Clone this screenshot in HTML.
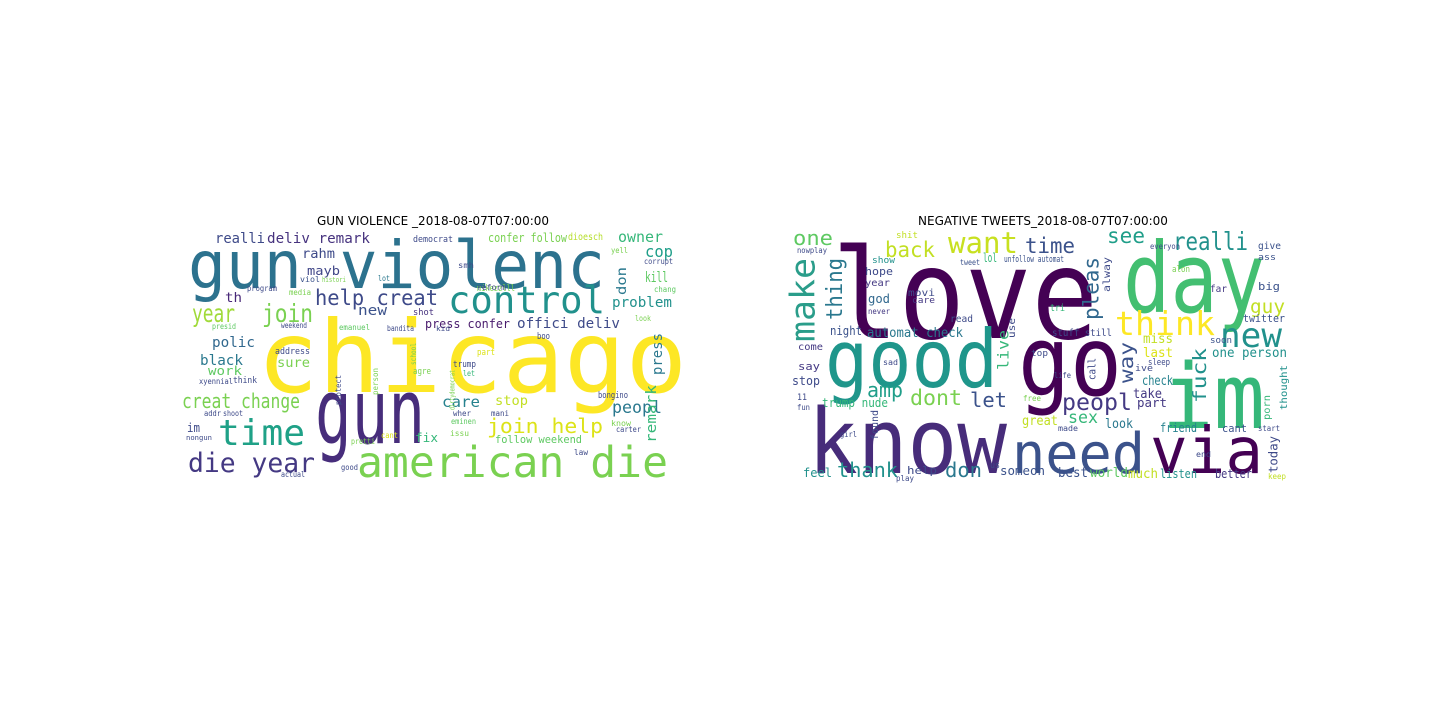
<!DOCTYPE html>
<html><head><meta charset="utf-8"><style>
html,body{margin:0;padding:0;background:#fff;}
svg{display:block;}
text{font-family:"DejaVu Sans Mono","Liberation Mono",monospace;}
.t{font-family:"DejaVu Sans","Liberation Sans",sans-serif;font-size:12px;fill:#000;}
</style></head><body>
<svg id="s" width="1440" height="720" viewBox="0 0 1440 720">
<rect width="1440" height="720" fill="#fff"/>
<g id="left"></g>
<g id="right"></g>
<text class="t" x="433" y="225" text-anchor="middle">GUN VIOLENCE _2018-08-07T07:00:00</text>
<text class="t" x="1043" y="225" text-anchor="middle">NEGATIVE TWEETS_2018-08-07T07:00:00</text>
</svg>
<script>
// [word, x, baselineY, fontSize, color, widthPx, vertical]
const leftWords = [
["chicago",257,392,100,"#fde725",430,0],
["gun violenc",188,288,66,"#2c728e",417,0],
["gun",315,443,90,"#472d7b",110,0],
["control",448,313,37,"#21918c",157,0],
["american die",357,477,43,"#7ad151",311,0],
["time",218,445,36,"#1fa187",87,0],
["die year",188,472,27,"#443983",127,0],
["help creat",315,305,21,"#3e4a89",123,0],
["year",192,322,25,"#a0da39",43,0],
["join",262,322,25,"#7ad151",51,0],
["creat change",182,408,20,"#7ad151",118,0],
["join help",487,433,20,"#dde318",116,0],
["peopl",612,413,17,"#2a788e",50,0],
["problem",612,307,14,"#21918c",60,0],
["kill",645,282,14,"#5ec962",23,0],
["cop",645,257,16,"#1f9e89",28,0],
["owner",618,242,15,"#35b779",45,0],
["realli",215,243,14,"#3e4a89",50,0],
["deliv remark",267,243,14,"#46327e",103,0],
["confer follow",488,242,12,"#7ad151",79,0],
["dioesch",568,240,10,"#b5de2b",35,0],
["press confer",425,328,12,"#481a6c",85,0],
["offici deliv",517,328,14,"#3e4a89",103,0],
["polic",212,347,14,"#31688e",43,0],
["black",200,365,14,"#2a788e",43,0],
["work",208,375,12,"#5ec962",34,0],
["rahm",302,258,13,"#3e4a89",33,0],
["mayb",307,275,12,"#404688",33,0],
["new",358,315,14,"#3b528b",29,0],
["care",442,407,15,"#26828e",38,0],
["stop",495,405,13,"#c2df23",33,0],
["sure",277,367,13,"#7ad151",33,0],
["th",225,302,13,"#482878",17,0],
["fix",415,442,12,"#35b779",23,0],
["follow weekend",495,443,11,"#5ec962",87,0],
["im",187,432,12,"#3e4a89",13,0],
["democrat",413,242,9,"#3e4a89",40,0],
["mikezzlll",477,291,9,"#7ad151",38,0],
["chang",654,292,8,"#5ec962",22,0],
["corrupt",644,264,8,"#3e4a89",29,0],
["yell",611,253,8,"#7ad151",17,0],
["viol",300,282,8,"#3b528b",20,0],
["lot",378,281,8,"#2a788e",12,0],
["program",247,291,8,"#3e4a89",30,0],
["media",289,295,8,"#7ad151",22,0],
["reform",477,290,8,"#3e4a89",29,0],
["shot",413,315,9,"#46327e",21,0],
["emanuel",339,330,8,"#5ec962",31,0],
["bandita",387,331,8,"#3e4a89",27,0],
["weekend",281,328,8,"#3e4a89",26,0],
["presid",212,329,8,"#5ec962",24,0],
["address",275,354,9,"#3e4a89",35,0],
["boo",537,339,9,"#3e4a89",13,0],
["part",477,355,9,"#dde318",18,0],
["trump",453,367,9,"#3e4a89",23,0],
["let",463,376,8,"#35b779",12,0],
["agre",413,374,9,"#7ad151",18,0],
["think",233,383,9,"#3e4a89",24,0],
["xyennial",199,384,8,"#3e4a89",34,0],
["bongino",598,398,9,"#3e4a89",30,0],
["addr",204,416,8,"#3e4a89",17,0],
["shoot",223,416,8,"#3e4a89",20,0],
["mani",491,416,8,"#3e4a89",18,0],
["wher",453,416,8,"#3e4a89",18,0],
["eminen",451,424,8,"#5ec962",25,0],
["issu",450,436,8,"#7ad151",19,0],
["know",611,426,8,"#7ad151",20,0],
["carter",616,432,8,"#3e4a89",25,0],
["cant",381,438,8,"#dde318",17,0],
["pretti",351,444,8,"#7ad151",24,0],
["nongun",186,440,7,"#3e4a89",26,0],
["good",341,470,8,"#3e4a89",17,0],
["actual",281,477,8,"#3e4a89",24,0],
["law",574,455,8,"#3e4a89",14,0],
["smh",458,268,8,"#3e4a89",16,0],
["histori",322,282,7,"#7ad151",24,0],
["look",635,321,8,"#7ad151",16,0],
["kid",436,331,7,"#3e4a89",14,0],
["press",665,375,14,"#2a788e",42,1],
["remark",659,443,14,"#35b779",58,1],
["don",629,295,13,"#2a788e",28,1],
["school",418,365,8,"#7ad151",22,1],
["person",380,395,8,"#7ad151",27,1],
["protect",343,405,8,"#3e4a89",30,1],
["dirtydemocrat",456,410,7,"#7ad151",40,1]
];
const rightWords = [
["love",832,338,125,"#440154",266,0],
["day",1123,312,97,"#43bf71",142,0],
["go",1018,395,96,"#440154",104,0],
["good",825,387,80,"#1f968b",173,0],
["know",808,473,90,"#472c7a",199,0],
["im",1162,428,90,"#35b779",103,0],
["need",1012,473,56,"#3b528b",133,0],
["via",1150,473,64,"#440154",113,0],
["want",948,253,29,"#c8e020",70,0],
["think",1115,335,33,"#fde725",100,0],
["new",1220,347,34,"#21918c",62,0],
["realli",1173,250,25,"#21918c",75,0],
["time",1025,253,21,"#3b528b",50,0],
["see",1107,243,21,"#1f9e89",38,0],
["back",885,257,21,"#c2df23",50,0],
["one",793,245,20,"#5ec962",40,0],
["peopl",1062,410,23,"#443983",70,0],
["dont",910,405,21,"#7ad151",52,0],
["amp",867,397,20,"#1f9e89",36,0],
["let",970,407,20,"#3b528b",37,0],
["thank",837,477,20,"#21918c",61,0],
["don",945,477,20,"#2a788e",37,0],
["guy",1250,313,19,"#c2df23",35,0],
["sex",1068,423,17,"#35b779",30,0],
["automat check",867,337,13,"#2a788e",96,0],
["one person",1212,357,13,"#21918c",75,0],
["miss",1143,343,13,"#c2df23",30,0],
["last",1143,357,13,"#dde318",30,0],
["check",1142,385,13,"#26828e",31,0],
["take",1133,398,13,"#443983",29,0],
["part",1137,407,12,"#443983",30,0],
["great",1022,425,13,"#c2df23",36,0],
["look",1105,428,13,"#2a788e",28,0],
["friend",1160,432,12,"#26828e",37,0],
["cant",1222,432,11,"#3b528b",25,0],
["best",1058,477,13,"#3b528b",30,0],
["world",1090,477,13,"#5ec962",38,0],
["much",1128,478,13,"#c2df23",30,0],
["listen",1160,478,12,"#21918c",37,0],
["better",1215,478,12,"#443983",37,0],
["feel",803,477,12,"#21918c",29,0],
["help",907,474,11,"#3e4a89",30,0],
["someon",1000,475,12,"#3b528b",45,0],
["say",798,370,11,"#443983",22,0],
["stop",792,385,12,"#3e4a89",28,0],
["come",798,350,10,"#443983",25,0],
["night",830,335,12,"#3b528b",32,0],
["trump nude",822,407,12,"#35b779",66,0],
["hope",865,275,11,"#3e4a89",28,0],
["year",865,286,10,"#443983",25,0],
["god",868,303,12,"#31688e",22,0],
["never",868,314,8,"#443983",22,0],
["movi",908,296,10,"#3e4a89",27,0],
["care",912,303,9,"#443983",23,0],
["tri",1050,311,10,"#35b779",15,0],
["read",950,322,10,"#3e4a89",23,0],
["lol",983,262,12,"#35b779",14,0],
["show",872,263,9,"#21918c",23,0],
["stuff still",1052,336,10,"#3e4a89",60,0],
["twitter",1243,322,11,"#3b528b",42,0],
["big",1258,290,11,"#3b528b",22,0],
["far",1210,292,10,"#443983",17,0],
["give",1258,249,10,"#3b528b",23,0],
["ass",1258,260,9,"#3b528b",18,0],
["soon",1210,343,9,"#3b528b",22,0],
["shit",896,238,9,"#c2df23",22,0],
["unfollow automat",1004,262,9,"#3b528b",60,0],
["tweet",960,265,8,"#3b528b",20,0],
["alon",1172,272,9,"#7ad151",18,0],
["everyon",1150,249,8,"#3e4a89",30,0],
["nowplay",797,253,8,"#3e4a89",30,0],
["top",1031,356,9,"#3e4a89",17,0],
["sad",883,365,8,"#3e4a89",15,0],
["sleep",1148,365,9,"#3e4a89",22,0],
["ive",1135,371,9,"#3e4a89",18,0],
["life",1054,378,8,"#3e4a89",17,0],
["free",1023,401,8,"#7ad151",18,0],
["11",797,400,9,"#3e4a89",10,0],
["fun",797,410,8,"#3e4a89",13,0],
["made",1058,431,8,"#3e4a89",20,0],
["girl",840,437,8,"#3e4a89",17,0],
["end",1196,457,8,"#3e4a89",15,0],
["us",990,468,9,"#3e4a89",10,0],
["start",1258,431,8,"#3e4a89",22,0],
["keep",1268,479,8,"#c2df23",18,0],
["play",896,481,8,"#3e4a89",18,0],
["make",822,342,34,"#2a9d8a",84,1],
["thing",847,320,22,"#2a788e",62,1],
["pleas",1103,320,21,"#31688e",63,1],
["fuck",1210,403,19,"#21918c",55,1],
["way",1137,383,19,"#3b528b",41,1],
["live",1012,370,15,"#35b779",40,1],
["use",1017,338,10,"#3e4a89",20,1],
["call",1098,380,11,"#3e4a89",22,1],
["alway",1112,292,10,"#3e4a89",35,1],
["today",1280,473,12,"#3e4a89",37,1],
["porn",1272,420,10,"#35b779",25,1],
["thought",1289,410,10,"#21918c",45,1],
["found",880,440,10,"#3e4a89",30,1]
];
function draw(gid, words, prefix){
  const g=document.getElementById(gid);
  words.forEach(w=>{
    const t=document.createElementNS("http://www.w3.org/2000/svg","text");
    t.textContent=w[0];
    t.setAttribute("font-size",w[3]);
    t.setAttribute("fill",w[4]);
    t.setAttribute("textLength",w[5]);
    t.setAttribute("lengthAdjust","spacingAndGlyphs");
    if(w[6]){
      const bx=w[1]-w[3]*0.22, by=w[2];
      t.setAttribute("x",bx);t.setAttribute("y",by);
      t.setAttribute("transform","rotate(-90 "+bx+" "+by+")");
    } else {
      t.setAttribute("x",w[1]);t.setAttribute("y",w[2]);
    }
    
    
    g.appendChild(t);
  });
}
draw("left",leftWords,"gun");
draw("right",rightWords,"neg");
</script>
</body></html>
